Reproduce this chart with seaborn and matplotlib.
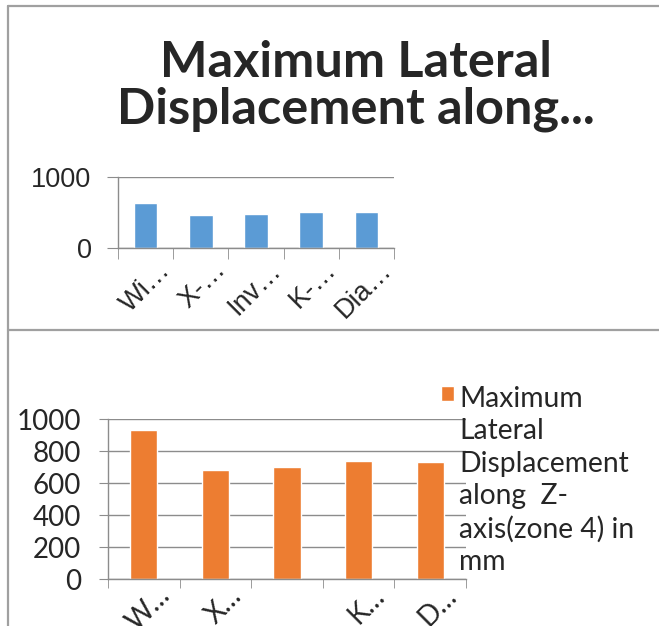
import pandas as pd
import matplotlib.pyplot as plt
import seaborn as sns
from matplotlib.lines import Line2D
from matplotlib.transforms import ScaledTranslation

# data
title = 'Maximum Lateral\nDisplacement along...'

top_labels = ['Wi…', 'X-…', 'Inv…', 'K-…', 'Dia…']
top_values = [634, 465, 479, 503, 503]
top_ticks = [0, 1000]

bottom_labels = ['W…', 'X…', '', 'K…', 'D…']
bottom_values = [931, 679, 698, 736, 729]
bottom_ticks = [0, 200, 400, 600, 800, 1000]
legend_label = 'Maximum\nLateral\nDisplacement\nalong  Z-\naxis(zone 4) in\nmm'

top_df = pd.DataFrame({'cat': top_labels, 'val': top_values})
bottom_df = pd.DataFrame({'cat': bottom_labels, 'val': bottom_values})

sns.set_style("white")
plt.rcParams['font.family'] = ['Lato', 'DejaVu Sans']

W, H = 659, 626
fig = plt.figure(figsize=(W / 100, H / 100), dpi=100)

grid_c = '#8c8c8c'
blue = '#5B9BD5'
orange = '#ED7D31'


def px_box(left, top, right, bottom):
    return [left / W, 1 - bottom / H, (right - left) / W, (bottom - top) / H]


def style_axis(ax, ticks, ylen, ypad, fsize, family, xpad, dx):
    ax.set_ylim(0, 1000)
    ax.set_yticks(ticks)
    ax.set_xlim(-0.5, 4.5)
    ax.set_axisbelow(True)
    ax.yaxis.grid(True, color=grid_c, lw=1)
    ax.set_xlabel('')
    ax.set_ylabel('')
    for s in ['top', 'right']:
        ax.spines[s].set_visible(False)
    for s in ['left', 'bottom']:
        ax.spines[s].set_color(grid_c)
        ax.spines[s].set_linewidth(1)
    ax.tick_params(axis='y', length=ylen, color=grid_c, pad=ypad,
                   labelsize=fsize, left=True)
    ax.set_xticks([i - 0.5 for i in range(6)], minor=True)
    ax.tick_params(axis='x', which='minor', length=ylen, color=grid_c,
                   bottom=True)
    ax.tick_params(axis='x', which='major', length=0, pad=xpad,
                   labelsize=fsize)
    for lab in ax.get_yticklabels():
        lab.set_family(family)
    for lab in ax.get_xticklabels():
        lab.set_family(family)
        lab.set_rotation(45)
        lab.set_rotation_mode('anchor')
        lab.set_ha('right')
        lab.set_va('center')
        lab.set_transform(lab.get_transform() +
                          ScaledTranslation(dx / 100, 0, fig.dpi_scale_trans))


# top chart
ax1 = fig.add_axes(px_box(118, 177, 394, 248))
sns.barplot(data=top_df, x='cat', y='val', color=blue, saturation=1,
            width=0.43, ax=ax1)
style_axis(ax1, top_ticks, 8, 11, 19.5, ['Liberation Sans', 'DejaVu Sans'], 13, 21)

fig.text(356 / W, 1 - 86 / H, title, ha='center', va='center',
         fontsize=36.3, fontweight='bold', linespacing=1.05)

# bottom chart
ax2 = fig.add_axes(px_box(108, 419, 466, 579))
sns.barplot(data=bottom_df, x='cat', y='val', color=orange, saturation=1,
            width=0.38, ax=ax2, label=legend_label)
style_axis(ax2, bottom_ticks, 6.5, 13, 20, ['Lato', 'DejaVu Sans'], 9, 22)

leg = ax2.legend(loc='upper left', bbox_to_anchor=(441 / W, 1 - 386 / H),
                 bbox_transform=fig.transFigure, frameon=False, borderpad=0,
                 borderaxespad=0, handlelength=0.45, handleheight=0.45,
                 handletextpad=0.2, fontsize=20.3)
for t in leg.get_texts():
    t.set_linespacing(1.3)
# put the square next to the first line instead of the middle
for col in leg._legend_handle_box.get_children():
    for item in col.get_children():
        item.align = 'top'

# panel frame lines of the screenshot
frame_c = '#a0a0a0'
fig.add_artist(Line2D([8 / W, 1], [1 - 6 / H] * 2, transform=fig.transFigure,
                      color=frame_c, lw=1.6))
fig.add_artist(Line2D([8 / W, 1], [1 - 330 / H] * 2, transform=fig.transFigure,
                      color=frame_c, lw=1.6))
fig.add_artist(Line2D([8 / W] * 2, [0, 1 - 6 / H], transform=fig.transFigure,
                      color=frame_c, lw=1.6))

plt.savefig('out.png', dpi=100)
print("Saved out.png")
